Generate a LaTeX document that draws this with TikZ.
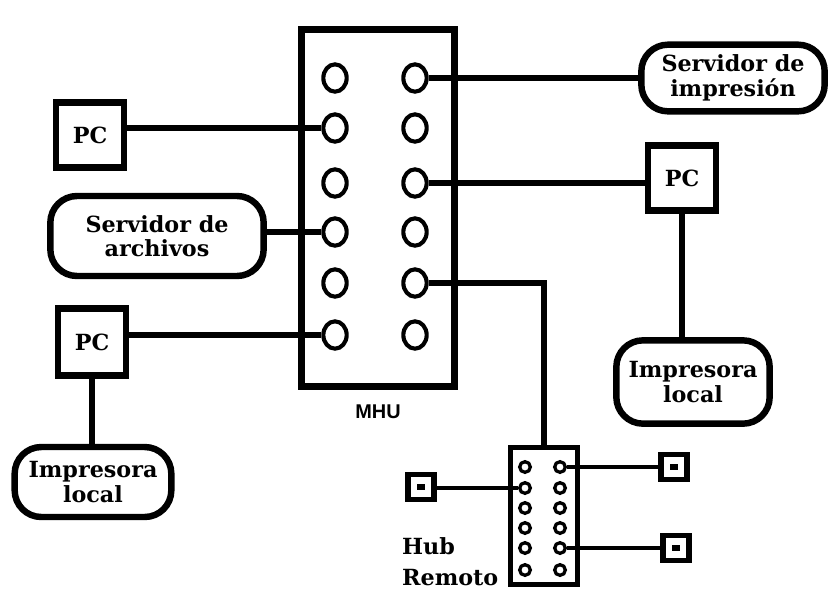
\documentclass[tikz,border=0pt]{standalone}
\usepackage{fontspec}
\setmainfont{DejaVu Serif}
\setsansfont{Liberation Sans}
\usetikzlibrary{positioning, shapes.geometric}
\newcommand{\etiq}{\fontsize{19}{21}\selectfont\bfseries}
\tikzset{
  equipo/.style={draw, line width=5.5pt, fill=white, minimum width=2.05cm, minimum height=1.95cm, font=\etiq, inner sep=0pt},
  servidor/.style={draw, line width=5.5pt, rounded corners=0.8cm, fill=white, align=center, font=\etiq, inner sep=0pt},
  wire/.style={line width=5.5pt},
  port/.style={ellipse, draw, line width=3.5pt, minimum width=0.7cm, minimum height=0.82cm, inner sep=0pt},
  hport/.style={circle, draw, line width=2.8pt, minimum size=0.32cm, inner sep=0pt},
  term/.style={draw, line width=5pt, minimum width=0.8cm, minimum height=0.75cm, inner sep=0pt},
  termin/.style={fill, minimum width=0.24cm, minimum height=0.2cm, inner sep=0pt}
}

\begin{document}
\begin{tikzpicture}[x=0.03cm, y=-0.03cm]
    \useasboundingbox[fill=white] (0,0) rectangle (834,605);

    % concentrador MHU
    \node[draw, line width=6pt, minimum width=4.6cm, minimum height=10.7cm] (mhu) at (378,208) {};
    \node[font=\sffamily\bfseries\fontsize{17}{19}\selectfont] (mhulab) at (378,412) {MHU};
    \foreach \y [count=\i] in {78,128,183,232,283,335} {
      \node[port] (mL\i) at (335,\y) {};
      \node[port] (mR\i) at (415,\y) {};
    }

    % equipos
    \node[servidor, minimum width=5.5cm, minimum height=2.0cm] (srvimp) at (733,78) {Servidor de\\impresión};
    \node[equipo] (pcA) at (90,135) {PC};
    \node[equipo] (pcR) at (682,178) {PC};
    \node[servidor, minimum width=6.4cm, minimum height=2.4cm] (srvarch) at (157,236) {Servidor de\\archivos};
    \node[equipo, minimum height=2.0cm] (pcB) at (92,342) {PC};
    \node[servidor, minimum width=4.6cm, minimum height=2.5cm] (impR) at (693,382) {Impresora\\local};
    \node[servidor, minimum width=4.7cm, minimum height=2.1cm] (impA) at (93,482) {Impresora\\local};

    % hub remoto
    \node[draw, line width=4.5pt, minimum width=2.0cm, minimum height=4.1cm] (hub) at (544,516) {};
    \foreach \y [count=\i] in {467,488,508,528,548,570} {
      \node[hport] (hL\i) at (525,\y) {};
      \node[hport] (hR\i) at (560,\y) {};
    }
    \node[font=\etiq, anchor=west] (hublab) at (398,546) {Hub};
    \node[font=\etiq, anchor=west] (remlab) at (398,578) {Remoto};
    \node[term] (termA) at (421,487) {};
    \node[term] (termB) at (674,467) {};
    \node[term] (termC) at (676,548) {};
    \node[termin] at (termA) {};
    \node[termin] at (termB) {};
    \node[termin] at (termC) {};

    % conexiones
    \draw[wire] (mR1.east) -- (mR1.east -| srvimp.west);
    \draw[wire] (mL2.west) -- (mL2.west -| pcA.east);
    \draw[wire] (mR3.east) -- (mR3.east -| pcR.west);
    \draw[wire] (mL4.west) -- (mL4.west -| srvarch.east);
    \draw[wire] (mR5.east) -| (hub.north);
    \draw[wire] (mL6.west) -- (mL6.west -| pcB.east);
    \draw[wire] (pcB.south) -- (pcB.south |- impA.north);
    \draw[wire] (pcR.south) -- (pcR.south |- impR.north);
    \draw[wire, line width=4pt] (hR1.east) -- (hR1.east -| termB.west);
    \draw[wire, line width=4pt] (hL2.west) -- (hL2.west -| termA.east);
    \draw[wire, line width=4pt] (hR5.east) -- (hR5.east -| termC.west);
\end{tikzpicture}
\end{document}
